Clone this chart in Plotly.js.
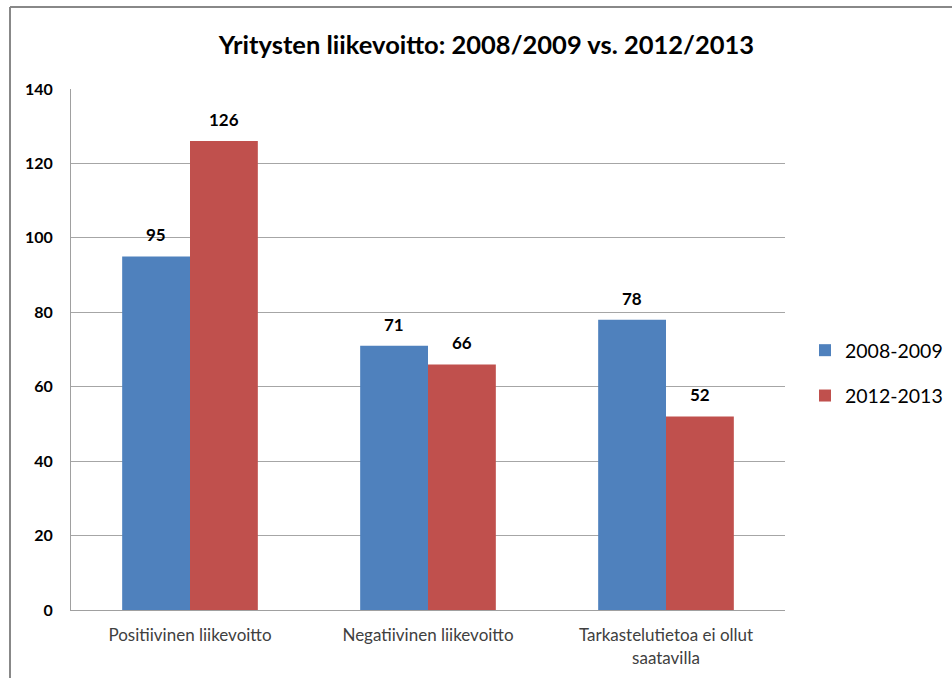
<!DOCTYPE html>
<html>
<head>
<meta charset="utf-8">
<script src="https://cdn.plot.ly/plotly-3.0.1.min.js"></script>
<style>
html,body{margin:0;padding:0;background:#fff;}
#chart{width:952px;height:678px;}
</style>
</head>
<body>
<div id="chart"></div>
<script>
const categories = ["Positiivinen liikevoitto", "Negatiivinen liikevoitto", "Tarkastelutietoa ei ollut<br>saatavilla"];
const seriesNames = ["2008-2009", "2012-2013"];
const values2008 = [95, 71, 78];
const values2012 = [126, 66, 52];
const yTicks = [0, 20, 40, 60, 80, 100, 120, 140];
const titleText = "Yritysten liikevoitto: 2008/2009 vs. 2012/2013";

const FONT = "Lato, 'Open Sans', sans-serif";
const colors = ["#4f81bd", "#c0504d"];
const allSeries = [values2008, values2012];

const traces = allSeries.map((vals, i) => ({
  type: "bar",
  name: seriesNames[i],
  x: categories,
  y: vals,
  marker: {color: colors[i]},
  legendgroup: "g" + i,
  hoverinfo: "skip"
}));

const annotations = [];
allSeries.forEach((vals, i) => {
  vals.forEach((v, j) => {
    annotations.push({
      x: categories[j], y: v, xref: "x", yref: "y",
      text: String(v), showarrow: false,
      xshift: i === 0 ? -34 : 34, yshift: 9, yanchor: "bottom",
      font: {family: FONT, size: 17, color: "#000", weight: "bold"}
    });
  });
});

const layout = {
  width: 952, height: 678,
  margin: {l: 71, r: 167, t: 89, b: 68, pad: 0},
  paper_bgcolor: "#fff", plot_bgcolor: "#fff",
  font: {family: FONT, color: "#000"},
  title: {
    text: titleText, xref: "container", x: 0.511, xanchor: "center",
    yref: "container", y: 1 - 45/678, yanchor: "middle",
    font: {family: FONT, size: 25.5, color: "#000", weight: "bold"}
  },
  barmode: "group",
  bargap: 0.43, bargroupgap: 0,
  xaxis: {
    showgrid: false, showline: true, linecolor: "#a0a0a0", linewidth: 1,
    ticks: "", ticklabelstandoff: 10,
    tickfont: {family: FONT, size: 17, color: "#404040"},
    fixedrange: true, automargin: false
  },
  yaxis: {
    range: [0, 140], tickvals: yTicks, ticktext: yTicks.map(String),
    showgrid: true, gridcolor: "#a6a6a6", gridwidth: 1,
    showline: true, linecolor: "#a0a0a0", linewidth: 1,
    zeroline: false, ticks: "", ticklen: 0, ticklabelstandoff: 14,
    tickfont: {family: FONT, size: 16, color: "#000", weight: "bold"},
    fixedrange: true, automargin: false
  },
  showlegend: true,
  legend: {
    xref: "container", yref: "container",
    x: 805 / 952, xanchor: "left", y: 1 - 373 / 678, yanchor: "middle",
    font: {family: FONT, size: 19.5, color: "#000"},
    traceorder: "grouped", tracegroupgap: 17,
    bgcolor: "rgba(0,0,0,0)"
  },
  annotations: annotations,
  shapes: [{
    type: "line", xref: "paper", yref: "paper",
    x0: (10 - 71) / 714, x1: 1.3, y0: (610.5 - 7) / 521.5, y1: (610.5 - 7) / 521.5,
    line: {color: "#888888", width: 2}
  }, {
    type: "line", xref: "paper", yref: "paper",
    x0: (10 - 71) / 714, x1: (10 - 71) / 714, y0: -0.3, y1: (610.5 - 7) / 521.5,
    line: {color: "#888888", width: 2}
  }]
};

Plotly.newPlot("chart", traces, layout, {displayModeBar: false, staticPlot: true});
</script>
</body>
</html>
